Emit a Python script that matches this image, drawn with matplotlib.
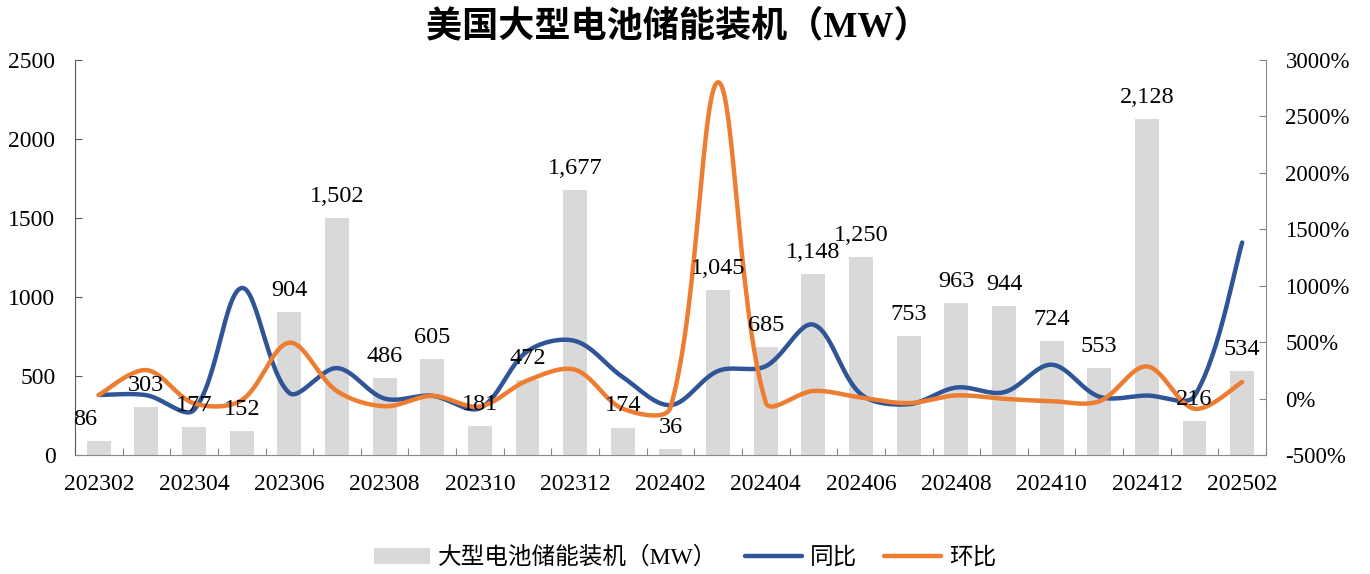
import matplotlib.pyplot as plt
import numpy as np

plt.rcParams['font.family'] = ['Liberation Serif', 'Noto Sans CJK SC']

months = ['202302', '202303', '202304', '202305', '202306', '202307', '202308',
          '202309', '202310', '202311', '202312', '202401', '202402', '202403',
          '202404', '202405', '202406', '202407', '202408', '202409', '202410',
          '202411', '202412', '202501', '202502']
capacity = [86, 303, 177, 152, 904, 1502, 486, 605, 181, 472, 1677, 174, 36,
            1045, 685, 1148, 1250, 753, 963, 944, 724, 553, 2128, 216, 534]
# percent values
yoy = [32, 30, -100, 980, 50, 270, 0, 25, -85, 420, 510, 190, -58, 245, 287,
       655, 38, -50, 98, 56, 300, 17, 27, 24, 1383]
mom = [32, 252, -42, -14, 495, 66, -68, 24, -70, 161, 255, -90, -79, 2803, -34,
       68, 9, -40, 28, -2, -23, -24, 285, -90, 147]

BAR = '#D9D9D9'
BLUE = '#2F5597'
ORANGE = '#ED7D31'

# pixel size of one category / one percent, so the smoothing works in screen space
SX, SY = 47.64, 0.1129


def smooth(y, n=30):
    # bezier smoothing like excel: tangent scaled by neighbouring chord lengths
    P = np.column_stack([np.arange(len(y)) * SX, np.asarray(y, float) * SY])
    m = len(P)
    d = np.hypot(*np.diff(P, axis=0).T)
    pts = []
    for i in range(m - 1):
        a = P[i - 1] if i > 0 else P[i]
        b = P[i + 2] if i + 2 < m else P[i + 1]
        dp = d[i - 1] if i > 0 else d[i]
        dn = d[i + 1] if i + 1 < m - 1 else d[i]
        c1 = P[i] + (P[i + 1] - a) * d[i] / (dp + d[i]) / 3
        c2 = P[i + 1] - (b - P[i]) * d[i] / (d[i] + dn) / 3
        t = np.linspace(0, 1, n, endpoint=False)[:, None]
        pts.append((1 - t) ** 3 * P[i] + 3 * (1 - t) ** 2 * t * c1
                   + 3 * (1 - t) * t ** 2 * c2 + t ** 3 * P[i + 1])
    pts.append(P[-1:])
    pts = np.vstack(pts)
    return pts[:, 0] / SX, pts[:, 1] / SY


fig = plt.figure(figsize=(13.7, 5.74), dpi=100)
ax = fig.add_axes([0.0547, 0.2073, 0.8694, 0.6882])
ax2 = ax.twinx()

x = np.arange(len(months))
ax.bar(x, capacity, width=0.5, color=BAR, label='大型电池储能装机（MW）')

xs, ys = smooth(yoy)
ax2.plot(xs, ys, color=BLUE, lw=3.2, solid_capstyle='round', label='同比')
xs, ys = smooth(mom)
ax2.plot(xs, ys, color=ORANGE, lw=3.2, solid_capstyle='round', label='环比')

# data labels sit above the lines
shift = {0: -10}
for i, v in enumerate(capacity):
    ax2.annotate(f'{v:,}', xy=(i, v), xycoords=ax.transData,
                 xytext=(shift.get(i, 0), 15.5), textcoords='offset points',
                 ha='center', va='center', fontsize=17.5, color='black')

ax.set_xlim(-0.5, len(months) - 0.5)
ax.set_ylim(0, 2500)
ax.set_yticks(range(0, 2501, 500))
ax2.set_ylim(-500, 3000)
ax2.set_yticks(range(-500, 3001, 500))
ax2.set_yticklabels([f'{v}%' for v in range(-500, 3001, 500)])

ax.set_xticks(np.arange(-0.5, len(months), 1))
ax.set_xticklabels([])
ax.set_xticks(x[::2], minor=True)
ax.set_xticklabels(months[::2], minor=True)
ax.tick_params(axis='x', which='major', direction='in', length=5, color='#898989')
ax.tick_params(axis='x', which='minor', length=0, pad=14, labelsize=17)
ax.tick_params(axis='y', direction='in', length=5, pad=14, labelsize=17, color='#595959')
ax2.tick_params(axis='y', direction='in', length=5, pad=14, labelsize=16.5, color='#898989')

for a in (ax, ax2):
    a.spines['top'].set_visible(False)
ax.spines['left'].set_color('#595959')
ax.spines['bottom'].set_color('#898989')
ax.spines['right'].set_visible(False)
ax2.spines['left'].set_visible(False)
ax2.spines['bottom'].set_visible(False)
ax2.spines['right'].set_color('#898989')

fig.text(0.495, 0.953, '美国大型电池储能装机（MW）', ha='center', va='center',
         fontsize=26, fontweight='bold')

h1, l1 = ax.get_legend_handles_labels()
h2, l2 = ax2.get_legend_handles_labels()
fig.legend(h1 + h2, l1 + l2, loc='center', bbox_to_anchor=(0.5, 0.028), ncol=3,
           frameon=False, fontsize=17, handlelength=2.4, handleheight=0.7,
           handletextpad=0.35, columnspacing=1.15)

fig.savefig('out.png', dpi=100)
